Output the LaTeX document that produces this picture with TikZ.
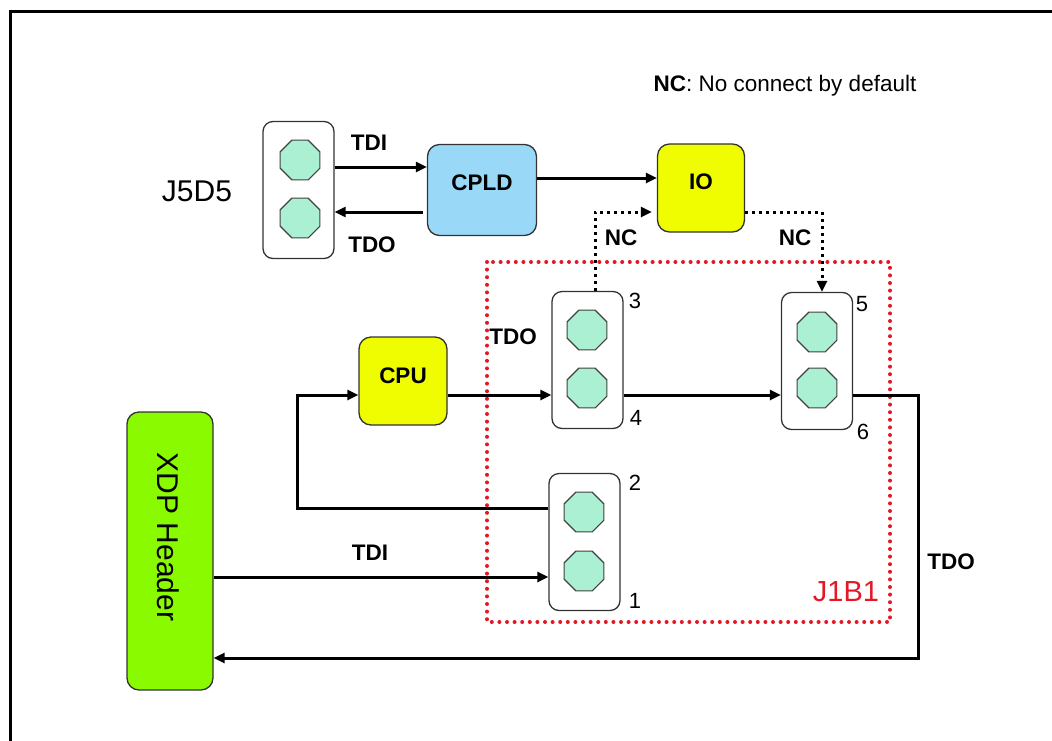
\documentclass[tikz,border=0pt]{standalone}
\usepackage{fontspec}
\setmainfont{Liberation Sans}
\usetikzlibrary{arrows.meta,shapes.geometric,calc}
\definecolor{cpldblue}{RGB}{153,217,247}
\definecolor{chipyellow}{RGB}{240,252,0}
\definecolor{xdpgreen}{RGB}{138,250,0}
\definecolor{pinmint}{RGB}{172,240,212}
\definecolor{jumpred}{RGB}{228,24,36}

\begin{document}
\begin{tikzpicture}[x=1pt,y=-1pt,
  chip/.style={draw=black!80,line width=1.3pt,rounded corners=12pt,font=\fontsize{22.5}{26}\selectfont\bfseries},
  hdr/.style={draw=black!80,line width=1.3pt,rounded corners=10pt,fill=white,minimum width=71pt,minimum height=137pt},
  pinoct/.style={regular polygon,regular polygon sides=8,draw=black!75,line width=1.2pt,fill=pinmint,minimum size=43pt,inner sep=0pt},
  sig/.style={line width=3pt,-{Triangle[length=11pt,width=10pt]}},
  nc/.style={line width=3pt,dash pattern=on 3pt off 4pt,-{Triangle[length=11pt,width=10pt]}},
  lbl/.style={font=\fontsize{22.5}{26}\selectfont\bfseries},
  num/.style={font=\fontsize{22}{26}\selectfont}]
\useasboundingbox (0,0) rectangle (1052,740);
% frame
\draw[line width=3pt] (10,745) -- (10,11) -- (1060,11);
\node[font=\fontsize{22.5}{26}\selectfont] (note) at (785,86) {\textbf{NC}: No connect by default};

% J5D5 and the chips on top
\node[hdr] (j5d5) at (298.5,190) {};
\node[pinoct] (j5d5a) at (300,160) {};
\node[pinoct] (j5d5b) at (300,218) {};
\node[font=\fontsize{30}{34}\selectfont] (j5d5lbl) at (197,191) {J5D5};
\node[chip,fill=cpldblue,minimum width=109pt,minimum height=91pt] (cpld) at (482,190) {\raisebox{7pt}[\height][\depth]{CPLD}};
\node[chip,fill=chipyellow,minimum width=87pt,minimum height=88pt] (io) at (701,188) {\raisebox{6pt}[\height][\depth]{IO}};

% J1B1
\draw[jumpred,line width=4pt,line cap=round,dash pattern=on 0pt off 7.6pt] (487,262) rectangle (890,622);
\node[font=\fontsize{29}{32}\selectfont,text=jumpred] (j1b1lbl) at (846,592) {J1B1};
\node[hdr] (j34) at (587.5,360) {};
\node[pinoct] (j34a) at (587,330) {};
\node[pinoct] (j34b) at (587,388) {};
\node[hdr] (j56) at (817,361) {};
\node[pinoct] (j56a) at (817,332) {};
\node[pinoct] (j56b) at (817,388) {};
\node[hdr] (j12) at (584.5,542) {};
\node[pinoct] (j12a) at (584,512) {};
\node[pinoct] (j12b) at (584,571) {};
\node[num] (n3) at (635,301) {3};
\node[num] (n4) at (636,418) {4};
\node[num] (n5) at (862,304) {5};
\node[num] (n6) at (863,432) {6};
\node[num] (n2) at (635,483) {2};
\node[num] (n1) at (635,601) {1};

\node[chip,fill=chipyellow,minimum width=88pt,minimum height=88pt] (cpu) at (403,381) {\raisebox{5pt}[\height][\depth]{CPU}};
\node[chip,fill=xdpgreen,minimum width=86pt,minimum height=278pt] (xdp) at (170,551) {};
\node[font=\fontsize{30}{34}\selectfont,rotate=-90] (xdplbl) at (168,537) {XDP Header};

% wires
\coordinate (tdiA) at (335,167);
\coordinate (tdoA) at (423,212);
\coordinate (cio) at (537,178);
\draw[sig] (j5d5.east |- tdiA) -- (cpld.west |- tdiA);
\draw[sig] (tdoA) -- (j5d5.east |- tdoA);
\draw[sig] (cpld.east |- cio) -- (io.west |- cio);
\node[lbl] (tdi1) at (369,143) {TDI};
\node[lbl] (tdo1) at (372,245) {TDO};

\coordinate (ncA) at (595,212);
\coordinate (ncB) at (822,212);
\draw[nc,shorten >=5pt] (j34.north -| ncA) -- (ncA) -- (io.west |- ncA);
\draw[nc] (io.east |- ncB) -- (ncB) -- (ncB |- j56.north);
\node[lbl] (nc1) at (621,238) {NC};
\node[lbl] (nc2) at (795,238) {NC};

\coordinate (busA) at (447,395);
\coordinate (tdoC) at (918,658);
\coordinate (loopC) at (297,508);
\coordinate (tdiB) at (213,577);
\draw[sig] (cpu.east |- busA) -- (j34.west |- busA);
\draw[sig] (j34.east |- busA) -- (j56.west |- busA);
\draw[sig] (j56.east |- busA) -| (tdoC) -- (xdp.east |- tdoC);
\draw[sig] (j12.west |- loopC) -- (loopC) |- (cpu.west |- busA);
\draw[sig] (xdp.east |- tdiB) -- (j12.west |- tdiB);
\node[lbl] (tdo2) at (513,337) {TDO};
\node[lbl] (tdi2) at (370,553) {TDI};
\node[lbl] (tdo3) at (951,562) {TDO};
\end{tikzpicture}
\end{document}
